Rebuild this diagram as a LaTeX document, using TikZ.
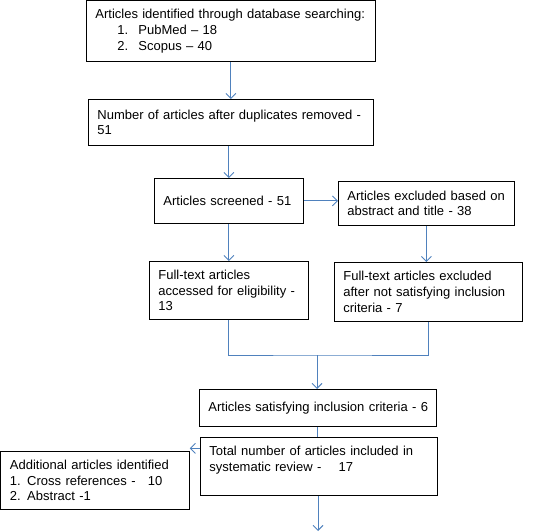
\documentclass[tikz,border=0pt]{standalone}
\usepackage{fontspec}
\setmainfont{Liberation Sans}
\usetikzlibrary{arrows.meta}
\definecolor{flowBlue}{RGB}{79,129,189}

\begin{document}
\begin{tikzpicture}[x=1pt,y=-1pt,
  box/.style={draw,line width=0.8pt,anchor=north west,align=left,
    inner xsep=9pt,inner ysep=0pt,font=\fontsize{13}{15.8}\selectfont},
  flow/.style={draw=flowBlue,line width=0.9pt,-{Straight Barb[length=5pt,width=10pt]}},
  link/.style={draw=flowBlue,line width=0.9pt}]
\useasboundingbox (0,0) rectangle (547,532);

% Identification
\node[box,text width=271pt,minimum height=60.5pt] (ident) at (86,0.5)
  {Articles identified through database searching:\\
   \hspace*{22pt}\makebox[21pt][l]{1.}PubMed -- 18\\
   \hspace*{22pt}\makebox[21pt][l]{2.}Scopus -- 40};
\node[box,text width=267pt,minimum height=46pt] (dedup) at (88,99)
  {Number of articles after duplicates removed -\\51};

% Screening
\node[box,text width=131pt,minimum height=45pt] (screen) at (154,178)
  {Articles screened - 51};
\node[box,text width=158pt,minimum height=44pt] (exclA) at (338,181)
  {Articles excluded based on\\abstract and title - 38};

% Eligibility
\node[box,text width=141pt,minimum height=58pt] (full) at (149,261)
  {Full-text articles\\accessed for eligibility -\\13};
\node[box,text width=170pt,minimum height=59pt] (exclB) at (334,262)
  {Full-text articles excluded\\after not satisfying inclusion\\criteria - 7};

% Included
\node[box,text width=219pt,minimum height=37pt] (incl) at (199,389)
  {\mbox{Articles satisfying inclusion criteria - 6}};
\node[box,text width=219pt,minimum height=58pt] (total) at (200,437)
  {Total number of articles included in\\systematic review - \hspace{13pt}17\\\mbox{}};
\node[box,text width=170.5pt,minimum height=58pt] (extra) at (0.5,451)
  {Additional articles identified\\1. Cross references - \hspace{8pt}10\\2. Abstract -1};

\coordinate (join) at (317,355);
\coordinate (out) at (318,531);

% Connections
\draw[flow] (ident.south) -- (dedup.north);
\draw[flow] (dedup.south -| screen.north) -- (screen.north);
\draw[flow] (screen.east) -- (exclA.west |- screen.east);
\draw[flow] (screen.south) -- (full.north);
\draw[flow] (exclA.south) -- (exclA.south |- exclB.north);
\draw[link] (full.south) |- (join) -| (exclB.south);
\draw[flow] (join) -- (join |- incl.north);
\draw[link] (incl.south) -- (incl.south |- total.north);
\draw[flow] ([yshift=18pt]total.west) coordinate (t) -- (t -| extra.east);
\draw[flow] (total.south -| out) -- (out);
\end{tikzpicture}
\end{document}
